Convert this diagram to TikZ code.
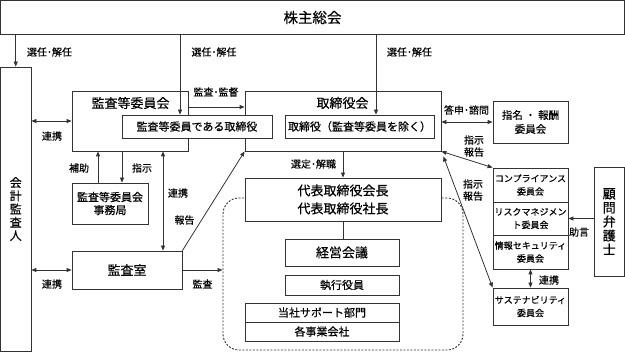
\documentclass[tikz,border=0pt]{standalone}
\usepackage{fontspec}
\setmainfont{Noto Sans CJK JP}[FakeBold=0.4]
\usetikzlibrary{arrows.meta,positioning,calc}
\lineskiplimit=-\maxdimen

\begin{document}
\begin{tikzpicture}[x=1pt,y=-1pt,
  orgbox/.style={draw=black!80,fill=white,line width=0.8pt,align=center,inner sep=1pt,
    font=\fontsize{11}{13}\selectfont},
  orgtitle/.style={font=\fontsize{13}{15}\selectfont,inner sep=0pt},
  orglabel/.style={font=\fontsize{10}{12}\selectfont,inner sep=0pt,align=center},
  cmtbox/.style={orgbox,minimum width=75pt,font=\fontsize{9}{13}\selectfont},
  arr/.style={-{Triangle[length=5pt,width=4pt]},line width=0.8pt,draw=black!80},
  dblarr/.style={{Triangle[length=5pt,width=4pt]}-{Triangle[length=5pt,width=4pt]},
    line width=0.8pt,draw=black!80}
]
  \useasboundingbox (0,0) rectangle (625,352);

  % Shareholders and auditor
  \node[orgbox,minimum width=624pt,minimum height=34pt,font=\fontsize{14.5}{16}\selectfont] (gm) at (312.5,17.5) {株主総会};
  \node[orgbox,minimum width=30.5pt,minimum height=284pt,text width=12pt,
    font=\fontsize{12}{13.25}\selectfont] (auditor) at (15.75,209) {会\\計\\監\\査\\人};

  % Audit and supervisory committee / board of directors
  \node[orgbox,minimum width=116pt,minimum height=60pt] (acb) at (130,121) {};
  \node[orgtitle] (acbtitle) at (130.5,103) {監査等委員会};
  \node[orgbox,minimum width=196pt,minimum height=60pt] (board) at (343,121) {};
  \node[orgtitle] (boardtitle) at (342.5,103) {取締役会};
  \node[orgbox,minimum width=150pt,minimum height=23pt] (acdir) at (197,126.5) {監査等委員である取締役};
  \node[orgbox,minimum width=149pt,minimum height=23pt] (dirs) at (359.5,126.5) {取締役（監査等委員を除く）};
  \node[orgbox,minimum width=76pt,minimum height=41pt] (office) at (110,203.5) {監査等委員会\\事務局};
  \node[orgbox,minimum width=110pt,minimum height=38pt,font=\fontsize{13}{15}\selectfont] (auditrm) at (127,270) {監査室};

  % Executive side
  \node[draw=black!80,line width=0.9pt,dash pattern=on 2pt off 1.5pt,rounded corners=16pt,
    minimum width=240pt,minimum height=152pt] (execzone) at (343,274) {};
  \node[orgbox,minimum width=196pt,minimum height=43pt,font=\fontsize{13}{18}\selectfont] (ceo) at (343,199.5) {代表取締役会長\\代表取締役社長};
  \node[orgbox,minimum width=114pt,minimum height=27pt,font=\fontsize{13}{15}\selectfont] (mgmt) at (342,252.5) {経営会議};
  \node[orgbox,minimum width=114pt,minimum height=20pt] (officers) at (342,285) {執行役員};
  \node[orgbox,minimum width=154pt,minimum height=19pt] (support) at (322,312.5) {当社サポート部門};
  \node[orgbox,minimum width=154pt,minimum height=19pt] (subs) at (322,331.5) {各事業会社};

  % Committees
  \node[orgbox,minimum width=75pt,minimum height=42pt,font=\fontsize{10.5}{14}\selectfont] (nomcom) at (530.5,122) {指名 ・ 報酬\\委員会};
  \node[cmtbox,minimum height=34pt] (comp) at (530.5,185) {コンプライアンス\\委員会};
  \node[cmtbox,minimum height=33pt] (risk) at (530.5,218.5) {リスクマネジメン\\ト委員会};
  \node[cmtbox,minimum height=34pt] (infosec) at (530.5,252) {情報セキュリティ\\委員会};
  \node[cmtbox,minimum height=37pt] (sustain) at (530.5,306.5) {サステナビリティ\\委員会};
  \node[orgbox,minimum width=30.5pt,minimum height=109pt,text width=13pt,
    font=\fontsize{13}{14}\selectfont] (lawyer) at (609.25,221.5) {顧\\問\\弁\\護\\士};

  % Connectors
  \draw[arr] (auditor.north |- gm.south) -- (auditor.north);
  \draw[arr] ([xshift=-17pt]acdir.north |- gm.south) -- ([xshift=-17pt]acdir.north);
  \draw[arr] ([xshift=16.5pt]dirs.north |- gm.south) -- ([xshift=16.5pt]dirs.north);
  \draw[arr] ([yshift=14pt]acb.east) -- ([yshift=14pt]board.west);
  \draw[dblarr] (auditor.east |- acb.west) -- (acb.west);
  \draw[dblarr] (auditor.east |- auditrm.west) -- (auditrm.west);
  \draw[arr] ([xshift=-12pt]office.north) -- ([xshift=-12pt]office.north |- acb.south);
  \draw[arr] ([xshift=12pt]office.north |- acb.south) -- ([xshift=12pt]office.north);
  \draw[dblarr] ([xshift=36pt]auditrm.north |- acb.south) -- ([xshift=36pt]auditrm.north);
  \draw[arr] (auditrm.north east) -- (board.south west);
  \draw[arr] (auditrm.east) -- (auditrm.east -| execzone.west);
  \draw[arr] (board.south) -- (ceo.north);
  \draw[line width=0.8pt,draw=black!80] (ceo.south) -- (ceo.south |- mgmt.north);
  \draw[dblarr] (board.east |- nomcom.west) -- (nomcom.west);
  \draw[dblarr] (board.south east) -- (comp.north west);
  \draw[dblarr] ([xshift=2pt,yshift=-5pt]board.south east) -- (sustain.north west);
  \draw[dblarr] (infosec.south) -- (sustain.north);
  \draw[arr] (lawyer.west |- risk.east) -- (risk.east);

  % Labels
  \node[orglabel] (lsel1) at (49.5,52) {選任･解任};
  \node[orglabel] (lsel2) at (214,52) {選任･解任};
  \node[orglabel] (lsel3) at (409.5,52) {選任･解任};
  \node[orglabel] (lsup) at (216,92) {監査･監督};
  \node[orglabel] (lcoop1) at (52,136) {連携};
  \node[orglabel] (lassist) at (79,168) {補助};
  \node[orglabel] (linstr) at (142,168) {指示};
  \node[orglabel] (lcoop2) at (178,193) {連携};
  \node[orglabel] (lreport) at (184.5,220) {報告};
  \node[orglabel] (lcoop3) at (52,284) {連携};
  \node[orglabel] (laudit) at (202.5,284) {監査};
  \node[orglabel] (lappoint) at (313.5,164) {選定･解職};
  \node[orglabel] (lconsult) at (466.5,110) {答申･諮問};
  \node[orglabel] (linstr1) at (474,146) {指示\\報告};
  \node[orglabel] (linstr2) at (473,190) {指示\\報告};
  \node[orglabel] (ladvice) at (579,232) {助言};
  \node[orglabel] (lcoop4) at (549,280) {連携};
\end{tikzpicture}
\end{document}
